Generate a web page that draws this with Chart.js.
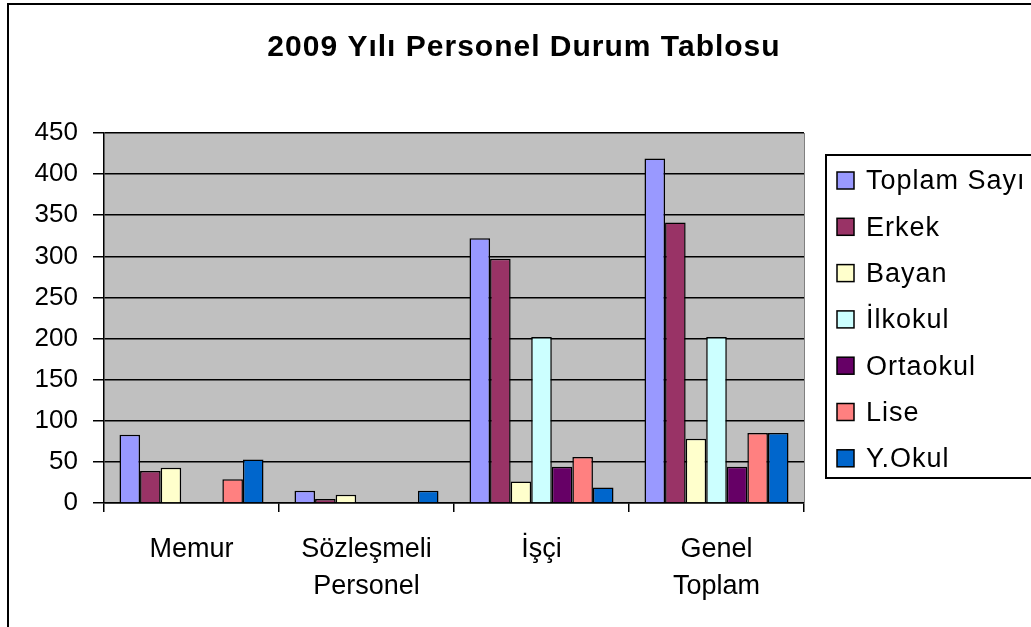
<!DOCTYPE html>
<html>
<head>
<meta charset="utf-8">
<script src="https://cdn.jsdelivr.net/npm/chart.js@4"></script>
<style>
html,body{margin:0;padding:0;background:#fff;}
#wrap{position:relative;width:1031px;height:627px;overflow:hidden;}
canvas{display:block;}
</style>
</head>
<body>
<div id="wrap"><canvas id="c" width="1031" height="627"></canvas></div>
<script>
const chartTitle = "2009 Yılı Personel Durum Tablosu";
const categories = ["Memur", ["Sözleşmeli", "Personel"], "İşçi", ["Genel", "Toplam"]];
const seriesNames = ["Toplam Sayı", "Erkek", "Bayan", "İlkokul", "Ortaokul", "Lise", "Y.Okul"];
const toplamSayi = [83, 15, 322, 419];
const erkek = [39, 5, 297, 341];
const bayan = [43, 10, 26, 78];
const ilkokul = [null, null, 202, 202];
const ortaokul = [null, null, 44, 44];
const lise = [29, null, 56, 85];
const yOkul = [53, 15, 19, 85];
const yTicks = [0, 50, 100, 150, 200, 250, 300, 350, 400, 450];

const seriesValues = [toplamSayi, erkek, bayan, ilkokul, ortaokul, lise, yOkul];
const colors = ["#9999FF", "#993366", "#FFFFCC", "#CCFFFF", "#660066", "#FF8080", "#0066CC"];
const FONT = "'Liberation Sans', Arial, sans-serif";

const decor = {
  id: 'decor',
  beforeDraw(chart) {
    const {ctx, chartArea: a} = chart;
    ctx.save();
    ctx.fillStyle = '#C0C0C0';
    ctx.fillRect(a.left, a.top, a.right - a.left, a.bottom - a.top);
    ctx.restore();
  },
  afterDraw(chart) {
    const {ctx, chartArea: a} = chart;
    ctx.save();
    // plot area right border (gray)
    ctx.strokeStyle = '#808080';
    ctx.lineWidth = 1;
    ctx.beginPath();
    ctx.moveTo(a.right + 0.5, a.top);
    ctx.lineTo(a.right + 0.5, a.bottom);
    ctx.stroke();
    // title
    ctx.fillStyle = '#000';
    ctx.font = "bold 30px " + FONT;
    ctx.letterSpacing = '1px';
    ctx.textAlign = 'center';
    ctx.textBaseline = 'middle';
    ctx.fillText(chartTitle, 524, 48);
    // legend
    const lx = 826, ly = 155, lw = 230, lh = 323;
    ctx.lineWidth = 2;
    ctx.strokeStyle = '#000';
    ctx.strokeRect(lx, ly, lw, lh);
    ctx.font = "27px " + FONT;
    ctx.letterSpacing = '1px';
    ctx.textAlign = 'left';
    chart.data.datasets.forEach((ds, i) => {
      const cy = 180 + i * 46.3;
      ctx.fillStyle = ds.backgroundColor;
      ctx.fillRect(837, cy - 8, 17, 17);
      ctx.lineWidth = 1.5;
      ctx.strokeRect(837, cy - 8, 17, 17);
      ctx.fillStyle = '#000';
      ctx.fillText(ds.label, 866, cy + 2);
    });
    ctx.letterSpacing = '0px';
    // outer chart border
    ctx.lineWidth = 2;
    ctx.beginPath();
    ctx.moveTo(8, 640);
    ctx.lineTo(8, 4);
    ctx.lineTo(1040, 4);
    ctx.stroke();
    ctx.restore();
  }
};

new Chart(document.getElementById('c'), {
  type: 'bar',
  data: {
    labels: categories,
    datasets: seriesNames.map((name, i) => ({
      label: name,
      data: seriesValues[i],
      backgroundColor: colors[i],
      borderColor: '#000',
      borderWidth: 1.5,
      categoryPercentage: 0.823,
      barPercentage: 1
    }))
  },
  options: {
    responsive: false,
    animation: false,
    devicePixelRatio: 1,
    layout: {padding: {top: 133, right: 227, left: 0, bottom: 0}},
    plugins: {legend: {display: false}, title: {display: false}, tooltip: {enabled: false}},
    scales: {
      x: {
        afterFit(s) { s.height = 124; },
        grid: {drawOnChartArea: false, drawTicks: true, tickLength: 9, color: '#000', lineWidth: 1.5, offset: true},
        border: {display: true, color: '#000', width: 1.5},
        ticks: {color: '#000', font: {family: FONT, size: 27, lineHeight: 1.37}, padding: 19, maxRotation: 0, autoSkip: false}
      },
      y: {
        min: 0, max: 450,
        afterFit(s) { s.width = 104; },
        afterBuildTicks(s) { s.ticks = yTicks.map(v => ({value: v})); },
        grid: {color: '#000', lineWidth: 1.5, tickLength: 11, drawTicks: true},
        border: {display: true, color: '#000', width: 1.5},
        ticks: {color: '#000', font: {family: FONT, size: 26}, padding: 15}
      }
    }
  },
  plugins: [decor]
});
</script>
</body>
</html>
